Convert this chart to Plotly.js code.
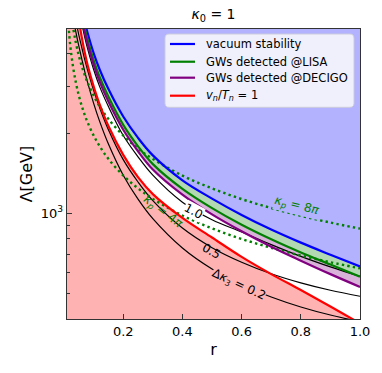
<!DOCTYPE html>
<html><head><meta charset="utf-8">
<script src="https://cdn.plot.ly/plotly-3.0.1.min.js"></script>
<style>html,body{margin:0;padding:0;background:#fff}</style>
</head><body>
<div id="chart" style="width:382px;height:373px"></div>
<script>
// r grid
const r = [0.01,0.02,0.03,0.04,0.05,0.06,0.07,0.08,0.1,0.12,0.15,0.2,0.25,0.3,0.4,0.5,0.6,0.7,0.8,0.9,1.0];
// Lambda [GeV] values
const vacuumStability = [25000,14000,10400,8300,6900,5900,5250,4750,4000,3480,2930,2310,1920,1650,1330,1135,985,868,775,698,630];
const gwLISA          = [23000,13300,9800,7800,6500,5560,4950,4470,3760,3260,2740,2150,1785,1530,1235,1045,905,798,712,641,577];
const gwDECIGO        = [22300,12900,9500,7550,6300,5380,4780,4310,3620,3130,2630,2060,1710,1460,1175,990,855,748,663,590,528];
const vnTn1           = [21000,11650,8260,6470,5350,4585,4020,3590,3000,2571,2127,1658,1366,1180,960,810,685,590,514,446,385];
const dk3_10          = [21500,12400,9150,7250,6050,5170,4590,4140,3470,3000,2520,1960,1630,1390,1100,945,850,762,688,628,578];
const dk3_05          = [8150,6950,6040,5290,4680,4200,3780,3440,2900,2500,2060,1590,1310,1115,879,742,654,592,547,513,487];
const dk3_02          = [7430,6330,5490,4800,4250,3800,3410,3090,2590,2220,1820,1390,1130,954,740,617,538,484,444,414,391];
const kp4pi           = [6200,4380,3580,3100,2770,2530,2340,2190,1960,1790,1600,1386,1240,1132,980,877,800,741,693,654,620];
const kp8pi           = [8750,6190,5050,4375,3910,3570,3310,3090,2770,2525,2260,1960,1750,1600,1385,1240,1130,1046,978,922,875];

const legendNames = ['vacuum stability','GWs detected @LISA','GWs detected @DECIGO','<i>v<sub>n</sub></i>/<i>T<sub>n</sub></i> = 1'];
const legendColors = ['blue','green','purple','red'];
const yTickVals = [1000];
const yTickText = ['10<sup>3</sup>'];
const yMinorVals = [500,600,700,800,900,2000,3000,4000];
const xTickVals = [0.2,0.4,0.6,0.8,1.0];
const xTickText = ['0.2','0.4','0.6','0.8','1.0'];

const yLow = 100, yHigh = 100000;
const topEdge = r.map(() => yHigh);
const bottomEdge = r.map(() => yLow);

function fillTrace(y, color, fill) {
  return {x: r, y: y, mode: 'lines', line: {width: 0, shape: 'spline'}, fill: fill, fillcolor: color, showlegend: false, hoverinfo: 'skip'};
}
function lineTrace(y, color, width, dash, name) {
  return {x: r, y: y, mode: 'lines', name: name || '', showlegend: false,
          line: {color: color, width: width, dash: dash || 'solid', shape: 'spline'}, hoverinfo: 'skip'};
}

const traces = [
  fillTrace(topEdge, 'rgba(0,0,0,0)', 'none'),
  fillTrace(vacuumStability, 'rgb(178,178,255)', 'tonexty'),
  fillTrace(gwLISA, 'rgb(178,217,178)', 'tonexty'),
  fillTrace(gwDECIGO, 'rgb(217,178,217)', 'tonexty'),
  fillTrace(bottomEdge, 'rgba(0,0,0,0)', 'none'),
  fillTrace(vnTn1, 'rgb(255,178,178)', 'tonexty'),
  lineTrace(dk3_02, 'black', 1.2),
  lineTrace(dk3_05, 'black', 1.2),
  lineTrace(dk3_10, 'black', 1.2),
  lineTrace(kp4pi, 'green', 2.4, '2.4px,3.2px'),
  lineTrace(kp8pi, 'green', 2.4, '2.4px,3.2px'),
  lineTrace(vacuumStability, legendColors[0], 2.2, 'solid', legendNames[0]),
  lineTrace(gwLISA, legendColors[1], 2.2, 'solid', legendNames[1]),
  lineTrace(gwDECIGO, legendColors[2], 2.2, 'solid', legendNames[2]),
  lineTrace(vnTn1, legendColors[3], 2.2, 'solid', legendNames[3])
];

const lg = v => Math.log10(v);
const fnt = (c, s) => ({color: c, size: s, family: 'DejaVu Sans'});
const annotations = [
  {x: 0.436, y: lg(1020), text: '1.0', textangle: 28, bgcolor: 'white', borderpad: 0},
  {x: 0.497, y: lg(721), text: '0.5', textangle: 30},
  {x: 0.589, y: lg(538), text: 'Δ<i>κ</i><sub>3</sub> = 0.2', textangle: 25, bgcolor: 'rgb(255,178,178)', borderpad: 0},
  {x: 0.786, y: lg(1065), text: '<i>κ<sub>p</sub></i> = 8<i>π</i>', textangle: 14, font: fnt('green', 12), bgcolor: 'rgb(178,178,255)', borderpad: 0},
  {x: 0.333, y: lg(1010), text: '<i>κ<sub>p</sub></i> = 4<i>π</i>', textangle: 37, font: fnt('green', 12)}
].map(a => Object.assign({xref: 'x', yref: 'y', showarrow: false, font: fnt('black', 12)}, a));

// hand-drawn legend box (paper coordinates)
const L = {x0: 0.3345, x1: 0.9795, y0: 0.730, y1: 0.9828, rx: 0.0137, ry: 0.0138};
const boxPath = `M ${L.x0+L.rx},${L.y1} L ${L.x1-L.rx},${L.y1} Q ${L.x1},${L.y1} ${L.x1},${L.y1-L.ry} L ${L.x1},${L.y0+L.ry} Q ${L.x1},${L.y0} ${L.x1-L.rx},${L.y0} L ${L.x0+L.rx},${L.y0} Q ${L.x0},${L.y0} ${L.x0},${L.y0+L.ry} L ${L.x0},${L.y1-L.ry} Q ${L.x0},${L.y1} ${L.x0+L.rx},${L.y1} Z`;
const legendRowY = [0.9483, 0.8872, 0.8321, 0.7700];
const shapes = [{type: 'path', xref: 'paper', yref: 'paper', path: boxPath, fillcolor: 'rgb(240,240,253)', line: {color: 'rgb(204,204,220)', width: 1}}];
legendNames.forEach((n, i) => {
  shapes.push({type: 'line', xref: 'paper', yref: 'paper', x0: 0.3515, x1: 0.4369, y0: legendRowY[i], y1: legendRowY[i], line: {color: legendColors[i], width: 2.2}});
  annotations.push({xref: 'paper', yref: 'paper', x: 0.4686, y: legendRowY[i], xanchor: 'left', yanchor: 'middle', text: n, showarrow: false, font: fnt('black', 11.5)});
});

const layout = {
  width: 382, height: 373,
  margin: {l: 67, r: 22, t: 29, b: 54, pad: 0},
  paper_bgcolor: 'white', plot_bgcolor: 'white',
  showlegend: false,
  font: {family: 'DejaVu Sans', size: 13, color: 'black'},
  title: {text: '<i>κ</i><sub>0</sub> = 1', x: 0.5, xref: 'paper', xanchor: 'center', y: 0.962, yref: 'container', yanchor: 'middle', font: {size: 14}},
  xaxis: {range: [0.01, 1.0], tickmode: 'array', tickvals: xTickVals, ticktext: xTickText,
          ticks: 'inside', ticklen: 5, tickwidth: 1, tickcolor: '#333', showline: true, linecolor: '#333', linewidth: 1.3,
          mirror: true, showgrid: false, zeroline: false, tickfont: {size: 13},
          title: {text: 'r', font: {size: 16}, standoff: 6}},
  yaxis: {type: 'log', range: [Math.log10(400), Math.log10(4930)], tickmode: 'array', tickvals: yTickVals, ticktext: yTickText,
          ticks: 'inside', ticklen: 5, tickwidth: 1, tickcolor: '#333', showline: true, linecolor: '#333', linewidth: 1.3,
          mirror: true, showgrid: false, zeroline: false, tickfont: {size: 13},
          minor: {tickmode: 'array', tickvals: yMinorVals, ticks: 'inside', ticklen: 3, tickwidth: 1, tickcolor: '#333', showgrid: false},
          title: {text: 'Λ[GeV]', font: {size: 16}, standoff: 4}},
  shapes: shapes,
  annotations: annotations
};

Plotly.newPlot('chart', traces, layout, {displayModeBar: false, staticPlot: true});
</script>
</body></html>
